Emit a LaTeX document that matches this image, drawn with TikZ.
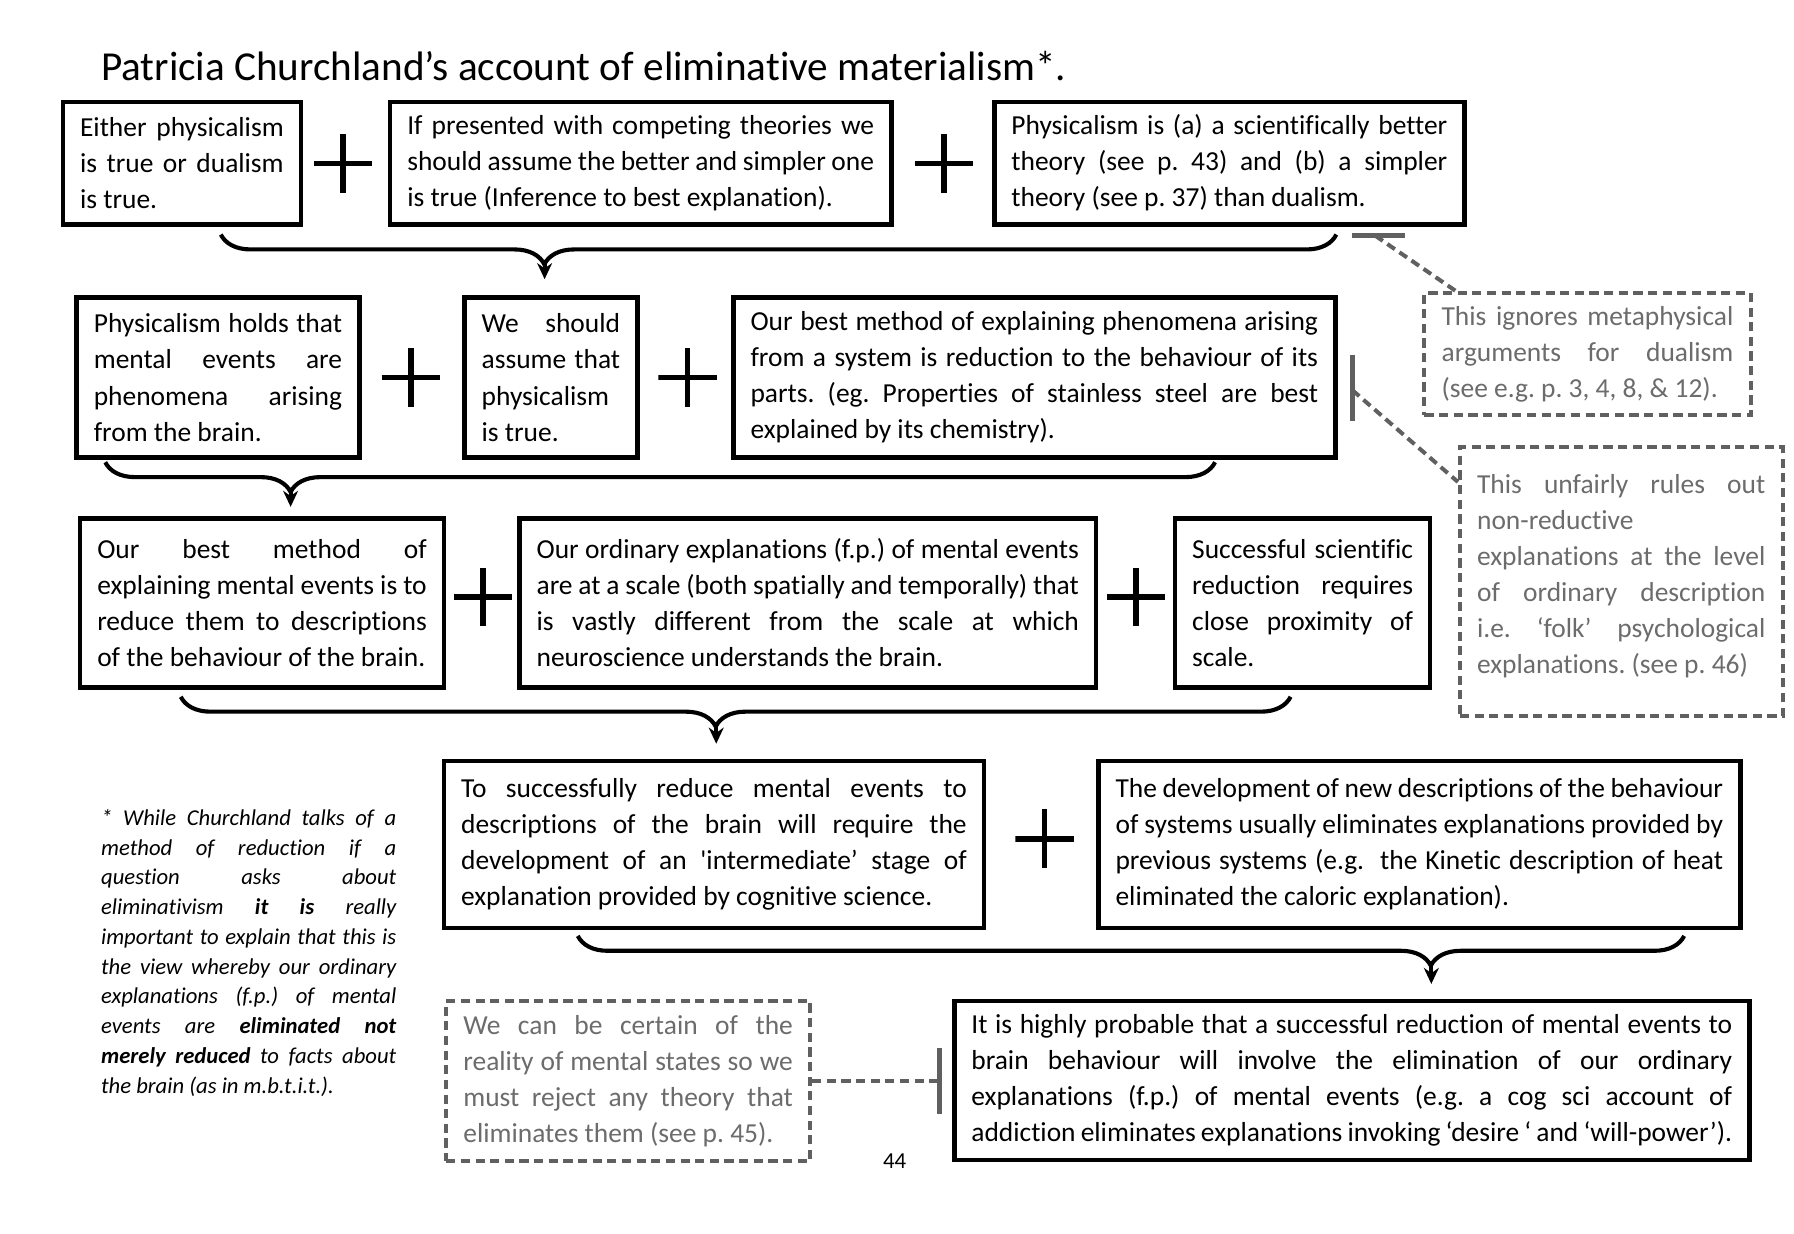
\documentclass[tikz,border=0pt]{standalone}
\usepackage{fontspec}
\setmainfont{Carlito}[Ligatures={TeX,NoCommon}]
\usetikzlibrary{arrows.meta,decorations.pathreplacing}

\definecolor{notegray}{HTML}{606060}
\definecolor{notetext}{HTML}{6C6C6C}
\newcommand{\boxfont}{\fontsize{12}{15.75}\selectfont\frenchspacing\hyphenpenalty=10000}
\newcommand{\notefont}{\fontsize{9.9}{13}\selectfont\itshape\frenchspacing\hyphenpenalty=10000}

\begin{document}
\begin{tikzpicture}[x=0.5pt,y=-0.5pt,
  claim/.style={draw,line width=2pt,inner xsep=7.5pt,inner ysep=0pt,align=justify,font=\boxfont},
  note/.style={draw=notegray,line width=1.75pt,dash pattern=on 4pt off 2.4pt,text=notetext,inner xsep=7.5pt,inner ysep=0pt,align=justify,font=\boxfont},
  plus/.style={minimum size=25.5pt,inner sep=0pt,path picture={\draw[line width=2.5pt] (path picture bounding box.north) -- (path picture bounding box.south) (path picture bounding box.west) -- (path picture bounding box.east);}},
  brace/.style={decorate,decoration={brace,mirror,amplitude=13pt,aspect=#1},line width=1.8pt},
  arr/.style={-{Stealth[length=7pt,width=6.5pt]},line width=1.8pt},
  link/.style={notegray,line width=1.75pt,dash pattern=on 4pt off 2.4pt},
  bar/.style={notegray,line width=2pt}]
\path[fill=white,use as bounding box] (0,0) rectangle (1568,1078.5);

\path (88,70) node[anchor=base west,inner sep=0pt,font=\fontsize{18}{21}\selectfont] (title) {Patricia Churchland’s account of eliminative materialism*.};

\path (159,142.5) node[claim,text width=89pt,minimum height=53.5pt] (either) {Either physicalism\linebreak is true or dualism\linebreak is true.};
\path (300,143) node[plus] (p1) {};
\path (560,142.5) node[claim,text width=204pt,minimum height=53.5pt] (ibe) {If presented with competing theories we\linebreak should assume the better and simpler one\linebreak is true (Inference to best explanation).};
\path (825,143) node[plus] (p2) {};
\path (1074.5,142.5) node[claim,text width=190.5pt,minimum height=53.5pt] (better) {Physicalism is (a) a scientifically better\linebreak theory (see p. 43) and (b) a simpler\linebreak theory (see p. 37) than dualism.};

\coordinate (br1a) at (193,205);
\coordinate (br1b) at (1168,205);
\coordinate (tip1) at (476,231);
\coordinate (to1) at (476,244);
\draw[brace=0.29] (br1a) -- (br1b);
\draw[arr] (tip1) -- (to1);

\path (190.5,330) node[claim,text width=108.5pt,minimum height=70pt] (arise) {Physicalism holds that\linebreak mental events are\linebreak phenomena arising\linebreak from the brain.};
\path (359,330) node[plus] (p3) {};
\path (481.5,330) node[claim,text width=60.5pt,minimum height=70pt] (assume) {We should\linebreak assume that\linebreak physicalism\newline is true.};
\path (601,330) node[plus] (p4) {};
\path (904,330) node[claim,text width=248pt,minimum height=70pt] (method) {Our best method of explaining phenomena arising\linebreak from a system is reduction to the behaviour of its\linebreak parts. (eg. Properties of stainless steel are best\linebreak explained by its chemistry).};

\coordinate (br2a) at (92,404);
\coordinate (br2b) at (1062,404);
\coordinate (tip2) at (254,430);
\coordinate (to2) at (254,443);
\draw[brace=0.167] (br2a) -- (br2b);
\draw[arr] (tip2) -- (to2);

\path (229,527) node[claim,text width=144pt,minimum height=74pt] (reduce) {Our best method of\linebreak explaining mental events is to\linebreak reduce them to descriptions\linebreak of the behaviour of the brain.};
\path (422,522) node[plus] (p5) {};
\path (706,527) node[claim,text width=237pt,minimum height=74pt] (scale) {Our ordinary explanations (f.p.) of mental events\linebreak are at a scale (both spatially and temporally) that\linebreak is vastly different from the scale at which\linebreak neuroscience understands the brain.};
\path (993,522) node[plus] (p6) {};
\path (1138.5,527) node[claim,text width=96.5pt,minimum height=74pt] (proximity) {Successful scientific\linebreak reduction requires\linebreak close proximity of\linebreak scale.};

\coordinate (br3a) at (158,609);
\coordinate (br3b) at (1128,609);
\coordinate (tip3) at (626,635);
\coordinate (to3) at (626,650);
\draw[brace=0.482] (br3a) -- (br3b);
\draw[arr] (tip3) -- (to3);

\path (624,738) node[claim,text width=221pt,minimum height=73pt] (interm) {To successfully reduce mental events to\linebreak descriptions of the brain will require the\linebreak development of an \textquotesingle intermediate’ stage of\linebreak explanation provided by cognitive science.};
\path (913,733) node[plus] (p7) {};
\path (1240.5,738) node[claim,text width=265.5pt,minimum height=73pt] (newdesc) {The development of new descriptions of the behaviour\linebreak of systems usually eliminates explanations provided by\linebreak previous systems (e.g.\ \ the Kinetic description of heat\linebreak eliminated the caloric explanation).};

\coordinate (br4a) at (505,818);
\coordinate (br4b) at (1472,818);
\coordinate (tip4) at (1251,844);
\coordinate (to4) at (1251,860);
\draw[brace=0.771] (br4a) -- (br4b);
\draw[arr] (tip4) -- (to4);

\path (1181.5,944.5) node[claim,text width=332.5pt,minimum height=69.5pt] (elim) {It is highly probable that a successful reduction of mental events to\linebreak brain behaviour will involve the elimination of our ordinary\linebreak explanations (f.p.) of mental events (e.g. a cog sci account of\linebreak addiction eliminates explanations invoking ‘desire ‘ and ‘will-power’).};

\path (1387.5,309.5) node[note,text width=127.5pt,minimum height=53.5pt] (metaph) {This ignores metaphysical\linebreak arguments for dualism\linebreak (see e.g. p. 3, 4, 8, \& 12).};
\path (1417,508.5) node[note,text width=126pt,minimum height=117.5pt] (unfair) {This unfairly rules out\linebreak non-reductive\newline explanations at the level\linebreak of ordinary description\linebreak i.e. ‘folk’ psychological\linebreak explanations. (see p. 46)\par\vspace{5pt}\hrule height 0pt};
\path (549,945) node[note,text width=144pt,minimum height=70pt] (certain) {We can be certain of the\linebreak reality of mental states so we\linebreak must reject any theory that\linebreak eliminates them (see p. 45).};

\coordinate (t1) at (1202,206);
\draw[bar] ([xshift=-10pt]t1) -- ([xshift=13pt]t1);
\draw[link] (t1) -- ([xshift=14.5pt]metaph.north west);
\coordinate (t2) at (1182,341);
\draw[bar] ([yshift=15.5pt]t2) -- ([yshift=-13.5pt]t2);
\draw[link] (t2) -- ([yshift=-16pt]unfair.north west);
\coordinate (t3) at (821,945);
\draw[link] (certain.east) -- (t3);
\draw[bar] ([yshift=14.5pt]t3) -- ([yshift=-14.5pt]t3);

\path (88,707) node[anchor=north west,inner sep=0pt,text width=129pt,align=justify,font=\notefont] (footnote) {* While Churchland talks of a\linebreak method of reduction if a\linebreak question asks about\linebreak eliminativism \textbf{it is} really\linebreak important to explain that this is\linebreak the view whereby our ordinary\linebreak explanations (f.p.) of mental\linebreak events are \textbf{eliminated not}\linebreak \textbf{merely reduced} to facts about\linebreak the brain (as in m.b.t.i.t.).};

\path (782,1015) node[font=\fontsize{10}{12}\selectfont] (page) {44};
\end{tikzpicture}
\end{document}
